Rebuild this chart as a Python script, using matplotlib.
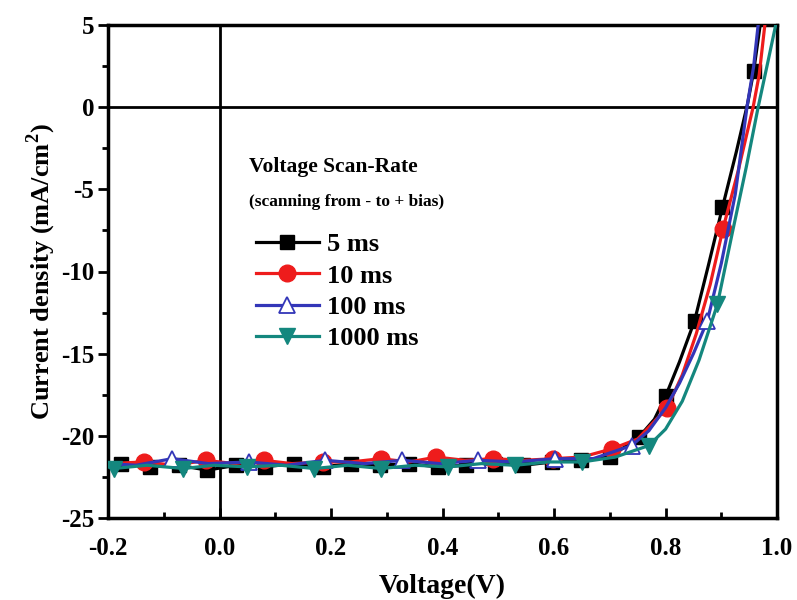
import numpy as np
import matplotlib
matplotlib.use('Agg')
import matplotlib.pyplot as plt
from matplotlib.ticker import MultipleLocator, FormatStrFormatter

# J-V curves at different voltage scan rates (scanning from - to + bias)
labels = ['5 ms', '10 ms', '100 ms', '1000 ms']

v_5ms = [-0.2, -0.177, -0.125, -0.073, -0.022, 0.03, 0.081, 0.133, 0.185, 0.236, 0.288,
         0.339, 0.391, 0.442, 0.494, 0.545, 0.597, 0.648, 0.70, 0.752, 0.78, 0.80, 0.825,
         0.852, 0.877, 0.902, 0.927, 0.947, 0.958, 0.968, 0.98]
j_5ms = [-21.8, -21.7, -21.9, -21.8, -22.1, -21.8, -21.9, -21.7, -21.9, -21.7, -21.8,
         -21.7, -21.9, -21.8, -21.7, -21.8, -21.6, -21.5, -21.3, -20.1, -19.0, -17.6, -15.5,
         -13.0, -9.6, -6.1, -2.7, 0.2, 2.2, 4.6, 7.5]
mk_5ms = list(range(1, 20)) + [21, 23, 25, 28]

v_10ms = [-0.2, -0.136, -0.08, -0.025, 0.027, 0.079, 0.13, 0.185, 0.235, 0.289, 0.34,
          0.389, 0.44, 0.491, 0.545, 0.599, 0.65, 0.704, 0.75, 0.803, 0.83, 0.855, 0.88,
          0.903, 0.93, 0.957, 0.968, 0.978, 0.99]
j_10ms = [-21.7, -21.6, -21.8, -21.5, -21.7, -21.5, -21.7, -21.6, -21.6, -21.4, -21.6,
          -21.3, -21.5, -21.4, -21.5, -21.4, -21.3, -20.8, -20.2, -18.3, -16.3, -13.8, -10.8,
          -7.4, -3.9, 0.0, 2.0, 5.0, 7.5]
mk_10ms = [1, 3, 5, 7, 9, 11, 13, 15, 17, 19, 23]

v_100ms = [-0.2, -0.15, -0.085, -0.02, 0.052, 0.12, 0.19, 0.26, 0.328, 0.395, 0.464,
           0.53, 0.601, 0.67, 0.739, 0.77, 0.80, 0.825, 0.85, 0.875, 0.90, 0.925, 0.946,
           0.958, 0.966, 0.975]
j_100ms = [-21.7, -21.8, -21.4, -21.7, -21.6, -21.8, -21.5, -21.7, -21.5, -21.7, -21.5,
           -21.6, -21.4, -21.4, -20.6, -19.7, -18.3, -16.8, -15.0, -13.0, -9.5, -5.3, 0.0,
           2.5, 5.0, 7.5]
mk_100ms = [2, 4, 6, 8, 10, 12, 14, 19]

v_1000ms = [-0.2, -0.19, -0.13, -0.065, -0.01, 0.05, 0.11, 0.17, 0.23, 0.29, 0.35, 0.41,
            0.47, 0.53, 0.59, 0.65, 0.71, 0.77, 0.80, 0.83, 0.86, 0.893, 0.92, 0.945,
            0.966, 0.985, 1.0]
j_1000ms = [-21.9, -22.0, -21.8, -22.0, -21.8, -21.9, -21.8, -22.0, -21.8, -22.0, -21.8,
            -21.9, -21.7, -21.8, -21.6, -21.6, -21.3, -20.6, -19.6, -17.9, -15.4, -12.0,
            -7.6, -3.6, 0.0, 3.0, 5.4]
mk_1000ms = [1, 3, 5, 7, 9, 11, 13, 15, 17, 21]

colors = ['#000000', '#ee1c1c', '#3336b8', '#14877e']

plt.rcParams['font.family'] = 'serif'
plt.rcParams['font.serif'] = ['Liberation Serif', 'DejaVu Serif']
plt.rcParams['font.weight'] = 'bold'
plt.rcParams['axes.labelweight'] = 'bold'
plt.rcParams['axes.unicode_minus'] = False
plt.rcParams['mathtext.fontset'] = 'custom'
plt.rcParams['mathtext.bf'] = 'Liberation Serif:bold'
plt.rcParams['mathtext.rm'] = 'Liberation Serif:bold'

fig = plt.figure(figsize=(7.97, 6.0), dpi=100)
ax = fig.add_axes([0.1355, 0.137, 0.8395, 0.821])

ax.axhline(0, color='k', lw=2, zorder=1)
ax.axvline(0, color='k', lw=2, zorder=1)

ax.plot(v_5ms, j_5ms, '-s', color=colors[0], lw=2.3, ms=10,
        markevery=mk_5ms, label=labels[0], zorder=3)
ax.plot(v_10ms, j_10ms, '-o', color=colors[1], lw=2.3, ms=12,
        markevery=mk_10ms, label=labels[1], zorder=3)
ax.plot(v_100ms, j_100ms, '-^', color=colors[2], lw=2.3, ms=11, mfc='white',
        mec=colors[2], mew=1.3, markevery=mk_100ms, label=labels[2], zorder=3)
ax.plot(v_1000ms, j_1000ms, '-v', color=colors[3], lw=2.3, ms=11,
        markevery=mk_1000ms, label=labels[3], zorder=3)

ax.set_xlim(-0.2, 1.0)
ax.set_ylim(-25, 5)
ax.xaxis.set_major_locator(MultipleLocator(0.2))
ax.xaxis.set_minor_locator(MultipleLocator(0.1))
ax.yaxis.set_major_locator(MultipleLocator(5))
ax.yaxis.set_minor_locator(MultipleLocator(2.5))
ax.xaxis.set_major_formatter(FormatStrFormatter('%.1f'))

ax.tick_params(axis='x', which='major', direction='in', length=7, width=2, labelsize=18, pad=14)
ax.tick_params(axis='x', which='minor', direction='in', length=4, width=2)
ax.tick_params(axis='y', which='major', direction='out', length=7, width=2, labelsize=18, pad=3)
ax.tick_params(axis='y', which='minor', direction='out', length=4, width=2)
for s in ax.spines.values():
    s.set_linewidth(2.5)

ax.set_xlabel('Voltage(V)', fontsize=20, labelpad=10)
ax.set_ylabel('Current density (mA/cm$^{2}$)', fontsize=19, labelpad=2)

ax.text(0.21, 0.703, 'Voltage Scan-Rate', transform=ax.transAxes, fontsize=15.5)
ax.text(0.21, 0.632, '(scanning from - to + bias)', transform=ax.transAxes, fontsize=12.5)

ax.legend(loc='upper left', bbox_to_anchor=(0.205, 0.6), frameon=False, fontsize=19,
          handlelength=2.4, handletextpad=0.3, labelspacing=0.3, borderaxespad=0)

fig.savefig('out.png', dpi=100)
